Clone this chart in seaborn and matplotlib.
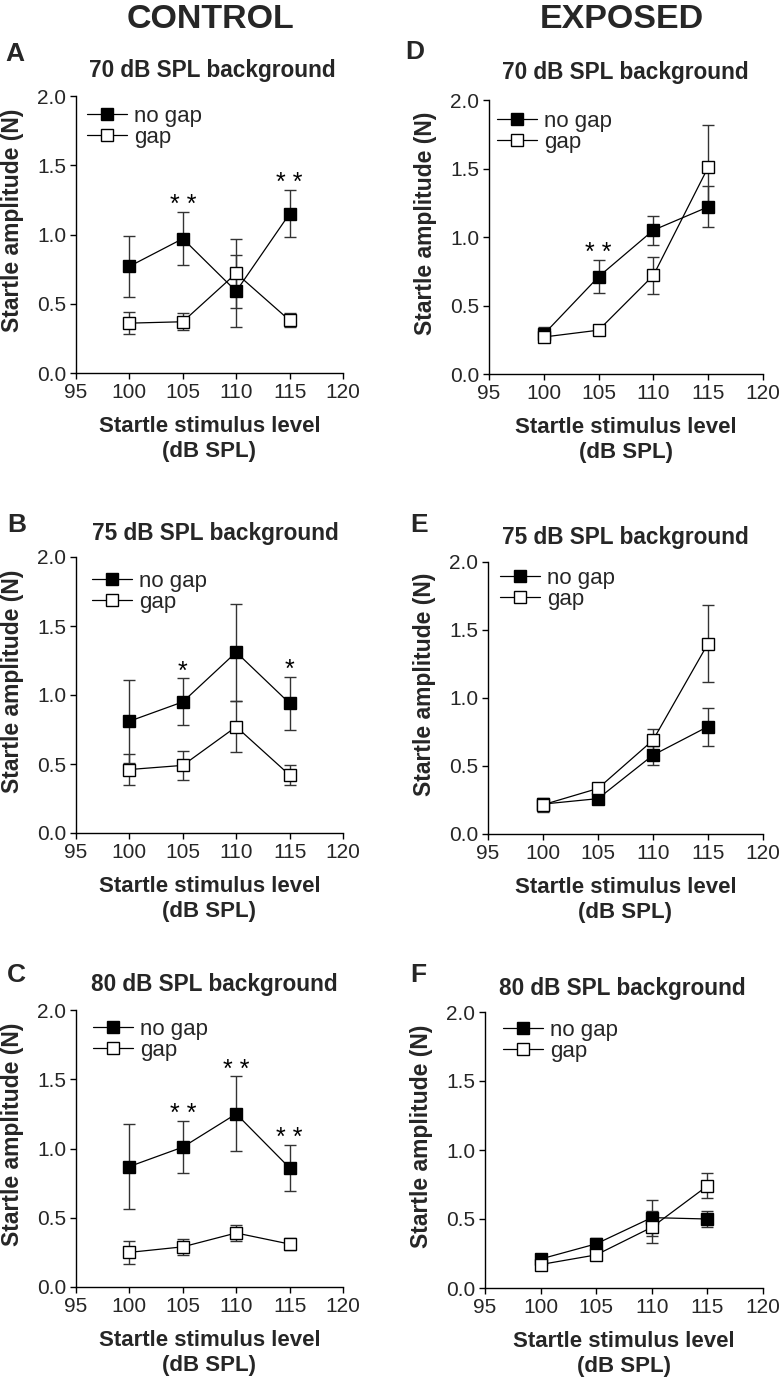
import numpy as np
import pandas as pd
import matplotlib
matplotlib.use("Agg")
import matplotlib.pyplot as plt
import seaborn as sns

# stimulus levels (dB SPL)
levels = [100, 105, 110, 115]

# CONTROL panels (mean, SEM)
nogap_A = [0.77, 0.97, 0.59, 1.15]
nogap_err_A = [0.22, 0.19, 0.26, 0.17]
gap_A = [0.36, 0.37, 0.72, 0.38]
gap_err_A = [0.08, 0.06, 0.25, 0.05]

nogap_B = [0.81, 0.95, 1.31, 0.94]
nogap_err_B = [0.30, 0.17, 0.35, 0.19]
gap_B = [0.46, 0.49, 0.77, 0.42]
gap_err_B = [0.115, 0.105, 0.185, 0.075]

nogap_C = [0.87, 1.01, 1.25, 0.86]
nogap_err_C = [0.31, 0.19, 0.27, 0.165]
gap_C = [0.25, 0.29, 0.39, 0.31]
gap_err_C = [0.085, 0.06, 0.06, 0.045]

# EXPOSED panels
nogap_D = [0.29, 0.71, 1.05, 1.22]
nogap_err_D = [0.05, 0.12, 0.105, 0.15]
gap_D = [0.27, 0.32, 0.72, 1.51]
gap_err_D = [0.04, 0.02, 0.135, 0.31]

nogap_E = [0.22, 0.26, 0.58, 0.79]
nogap_err_E = [0.04, 0.02, 0.07, 0.14]
gap_E = [0.215, 0.335, 0.69, 1.40]
gap_err_E = [0.05, 0.02, 0.085, 0.285]

nogap_F = [0.21, 0.32, 0.51, 0.50]
nogap_err_F = [0.03, 0.04, 0.13, 0.055]
gap_F = [0.17, 0.24, 0.44, 0.74]
gap_err_F = [0.03, 0.04, 0.115, 0.09]

# significance marks per panel
stars_A = {105: "* *", 115: "* *"}
stars_B = {105: "*", 115: "*"}
stars_C = {105: "* *", 110: "* *", 115: "* *"}
stars_D = {105: "* *"}
stars_E = {}
stars_F = {}

titles = ["70 dB SPL background", "75 dB SPL background", "80 dB SPL background"]

sns.set_style("ticks")
plt.rcParams["font.family"] = ["Liberation Sans", "DejaVu Sans"]

W, H = 780, 1382
fig = plt.figure(figsize=(W / 100, H / 100), dpi=100)


def px_axes(l, r, t, b):
    return fig.add_axes([l / W, 1 - b / H, (r - l) / W, (b - t) / H])


def draw_panel(ax, ng, ng_err, g, g_err, stars, leg_dx, leg_dy):
    df = pd.DataFrame({"level": levels, "nogap": ng, "gap": g})
    ax.errorbar(levels, ng, yerr=ng_err, fmt="none", ecolor="#333333",
                elinewidth=1.0, capsize=4.5, capthick=1.0, zorder=1)
    ax.errorbar(levels, g, yerr=g_err, fmt="none", ecolor="#333333",
                elinewidth=1.0, capsize=4.5, capthick=1.0, zorder=1)
    sns.lineplot(data=df, x="level", y="nogap", ax=ax, color="black", lw=0.9,
                 marker="s", markersize=9, markerfacecolor="black",
                 markeredgecolor="black", markeredgewidth=1.0, label="no gap", zorder=3)
    sns.lineplot(data=df, x="level", y="gap", ax=ax, color="black", lw=0.9,
                 marker="s", markersize=9, markerfacecolor="white",
                 markeredgecolor="black", markeredgewidth=1.0, label="gap", zorder=3)
    for x, s in stars.items():
        i = levels.index(x)
        ax.text(x, ng[i] + ng_err[i] + 0.05, s, ha="center", va="center",
                fontsize=18, color="black")
    ax.set_xlim(95, 120)
    ax.set_ylim(0, 2.0)
    ax.set_xticks([95, 100, 105, 110, 115, 120])
    ax.set_yticks([0.0, 0.5, 1.0, 1.5, 2.0])
    ax.set_yticklabels(["0.0", "0.5", "1.0", "1.5", "2.0"])
    ax.tick_params(labelsize=15, length=4, width=1, color="black", pad=3)
    for sp in ["left", "bottom"]:
        ax.spines[sp].set_linewidth(1.0)
        ax.spines[sp].set_color("black")
    sns.despine(ax=ax)
    ax.set_xlabel("Startle stimulus level\n(dB SPL)", fontsize=16,
                  fontweight="bold", linespacing=1.3, labelpad=10)
    ax.set_ylabel("Startle amplitude (N)", fontsize=16.5, fontweight="bold")
    bb = ax.get_position()
    axw, axh = bb.width * W, bb.height * H
    ax.yaxis.set_label_coords(-52 / axw, 0.55)
    ax.legend(loc="upper left", bbox_to_anchor=(leg_dx / axw, 1 - leg_dy / axh),
              frameon=False, fontsize=16, handlelength=1.8, handletextpad=0.3,
              labelspacing=0.0, borderpad=0, borderaxespad=0, numpoints=1)


panels = [
    ((76, 343, 96, 373), nogap_A, nogap_err_A, gap_A, gap_err_A, stars_A, 11, 10, "A", (5, 54), titles[0], (212, 70)),
    ((76, 343, 557, 833), nogap_B, nogap_err_B, gap_B, gap_err_B, stars_B, 16, 14, "B", (7, 525), titles[1], (215, 533)),
    ((76, 343, 1010, 1287), nogap_C, nogap_err_C, gap_C, gap_err_C, stars_C, 17, 9, "C", (7, 975), titles[2], (214, 985)),
    ((489, 763, 100, 374), nogap_D, nogap_err_D, gap_D, gap_err_D, stars_D, 8, 11, "D", (405, 52), titles[0], (625, 72)),
    ((488, 763, 562, 834), nogap_E, nogap_err_E, gap_E, gap_err_E, stars_E, 12, 6, "E", (410, 525), titles[1], (625, 538)),
    ((485, 763, 1012, 1288), nogap_F, nogap_err_F, gap_F, gap_err_F, stars_F, 18, 8, "F", (410, 975), titles[2], (622, 988)),
]

for box, ng, nge, g, ge, st, dx, dy, letter, lpos, title, tpos in panels:
    ax = px_axes(*box)
    draw_panel(ax, ng, nge, g, ge, st, dx, dy)
    fig.text(lpos[0] / W, 1 - lpos[1] / H, letter, fontsize=19, fontweight="bold",
             ha="left", va="center")
    fig.text(tpos[0] / W, 1 - tpos[1] / H, title, fontsize=16.3, fontweight="bold",
             ha="center", va="center")

fig.text(210 / W, 1 - 20 / H, "CONTROL", fontsize=24.5, fontweight="bold", ha="center", va="center")
fig.text(622 / W, 1 - 20 / H, "EXPOSED", fontsize=24.5, fontweight="bold", ha="center", va="center")

fig.savefig("out.png", dpi=100)
